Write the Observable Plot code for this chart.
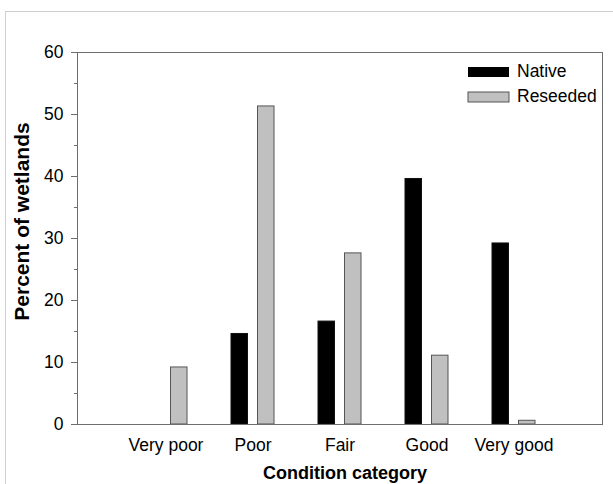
<!DOCTYPE html>
<html>
<head>
<meta charset="utf-8">
<script src="https://cdn.jsdelivr.net/npm/d3@7"></script>
<script src="https://cdn.jsdelivr.net/npm/@observablehq/plot@0.6"></script>
<style>
  html, body { margin: 0; padding: 0; background: #fff; overflow: hidden; }
  #wrap { position: relative; width: 613px; height: 484px; overflow: hidden; }
  #outer { position: absolute; left: 5px; top: 11px; width: 700px; height: 600px;
           border-left: 1px solid #cfcfcf; border-top: 1px solid #cfcfcf; }
  #chart { position: absolute; left: 0; top: 0; }
  #legend { position: absolute; left: 468px; top: 61px; }
  .lg-swatch { padding-bottom: 4px !important; }
  .lg-swatch svg { overflow: visible; margin-right: 8px !important; }
  .lg-swatch:last-child rect { stroke: #555; stroke-width: 1; }
</style>
</head>
<body>
<div id="wrap">
  <div id="outer"></div>
  <div id="chart"></div>
  <div id="legend"></div>
</div>
<script>
// ---- data ----
const categories = ["Very poor", "Poor", "Fair", "Good", "Very good"];
const series = ["Native", "Reseeded"];
const nativeValues = [0, 14.6, 16.6, 39.6, 29.2];
const reseededValues = [9.2, 51.3, 27.6, 11.1, 0.6];
const yTicks = [0, 10, 20, 30, 40, 50, 60];
const yMinorTicks = [5, 15, 25, 35, 45, 55];
const seriesColors = ["#000000", "#c0c0c0"];
const xTitle = "Condition category";
const yTitle = "Percent of wetlands";

const nativeRows = categories.map((c, i) => ({category: c, series: "Native", value: nativeValues[i]}));
const reseededRows = categories.map((c, i) => ({category: c, series: "Reseeded", value: reseededValues[i]}));

const font = "'Liberation Sans', Arial, Helvetica, sans-serif";

const chart = Plot.plot({
  width: 613,
  height: 484,
  marginLeft: 77,
  marginRight: 11,
  marginTop: 52,
  marginBottom: 60,
  style: {fontFamily: font, background: "transparent", color: "black", overflow: "visible"},
  x: {domain: categories, paddingInner: 0.509, paddingOuter: 0.7545, align: 0.5, label: null},
  y: {domain: [0, 60], label: null},
  color: {domain: series, range: seriesColors},
  marks: [
    Plot.barY(nativeRows, {x: "category", y: "value", fill: "series", stroke: "#111", strokeWidth: 1, insetRight: 26.5}),
    Plot.barY(reseededRows, {x: "category", y: "value", fill: "series", stroke: "#555", strokeWidth: 1, insetLeft: 26.5}),
    Plot.frame({stroke: "#6e6e6e", strokeWidth: 1}),
    Plot.axisY(yTicks, {tickSize: 6, tickPadding: 8, fontSize: 17.5, label: null, stroke: "#6e6e6e", fill: "black"}),
    Plot.axisY(yMinorTicks, {tickSize: 3, tickFormat: () => "", label: null, stroke: "#6e6e6e"}),
    Plot.axisX({tickSize: 0, tickPadding: 14, fontSize: 17.5, label: null, fill: "black"}),
    Plot.text([yTitle], {frameAnchor: "left", textAnchor: "middle", lineAnchor: "middle", rotate: -90,
                         dx: -55, dy: -17, fontSize: 21, fontWeight: "bold", fill: "black"}),
    Plot.text([xTitle], {frameAnchor: "bottom", textAnchor: "middle", lineAnchor: "top",
                         dx: 5, dy: 42, fontSize: 18, fontWeight: "bold", fill: "black"})
  ]
});
document.getElementById("chart").appendChild(chart);

const legend = Plot.legend({
  color: {domain: series, range: seriesColors},
  legend: "swatches",
  columns: 1,
  swatchWidth: 41,
  swatchHeight: 10,
  className: "lg",
  style: {fontFamily: font, fontSize: "17.5px", color: "black", margin: 0}
});
document.getElementById("legend").appendChild(legend);
</script>
</body>
</html>
